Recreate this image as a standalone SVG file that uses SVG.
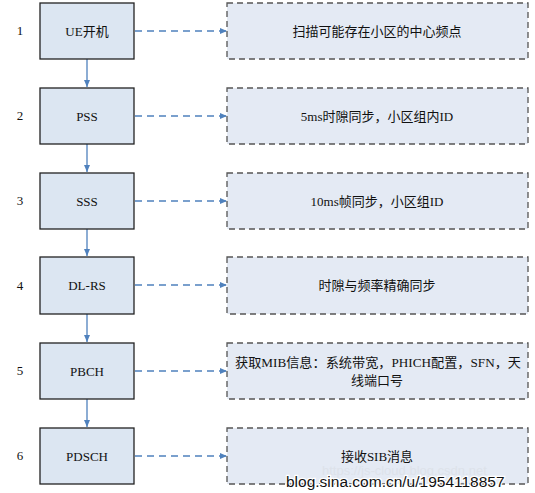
<svg xmlns="http://www.w3.org/2000/svg" width="535" height="493" viewBox="0 0 535 493">
<style>
.step{fill:#DCE6F2;stroke:#222;stroke-width:1.3}
.note{fill:#E4EAF4;stroke:#555;stroke-width:1.3;stroke-dasharray:6,4}
.lbl{font-family:"Liberation Serif","Noto Sans CJK SC",serif;font-size:13px;fill:#111;text-anchor:middle}
.num{font-family:"Liberation Serif",serif;font-size:13px;fill:#111;text-anchor:middle}
.down{stroke:#4F81BD;stroke-width:1.3;fill:none}
.side{stroke:#4F81BD;stroke-width:1.3;fill:none;stroke-dasharray:7,5}
.wm{font-family:"Liberation Sans",sans-serif}
</style>
<defs>
<marker id="ah" markerWidth="8" markerHeight="8" refX="7" refY="4" orient="auto" markerUnits="userSpaceOnUse">
<path d="M0,1 L7,4 L0,7 Z" fill="#4F81BD"/>
</marker>
</defs>
<rect width="535" height="493" fill="#fff"/>
<g id="numbers">
<text class="num" x="20" y="35">1</text>
<text class="num" x="20" y="120">2</text>
<text class="num" x="20" y="205">3</text>
<text class="num" x="20" y="290">4</text>
<text class="num" x="20" y="375">5</text>
<text class="num" x="20" y="460">6</text>
</g>
<g id="connectors">
<line class="down" x1="87" y1="59" x2="87" y2="87" marker-end="url(#ah)"/>
<line class="down" x1="87" y1="144" x2="87" y2="172" marker-end="url(#ah)"/>
<line class="down" x1="87" y1="229" x2="87" y2="256" marker-end="url(#ah)"/>
<line class="down" x1="87" y1="314" x2="87" y2="342" marker-end="url(#ah)"/>
<line class="down" x1="87" y1="399" x2="87" y2="427" marker-end="url(#ah)"/>
<line class="side" x1="135" y1="31" x2="227" y2="31" marker-end="url(#ah)"/>
<line class="side" x1="135" y1="116" x2="227" y2="116" marker-end="url(#ah)"/>
<line class="side" x1="135" y1="201" x2="227" y2="201" marker-end="url(#ah)"/>
<line class="side" x1="135" y1="285" x2="227" y2="285" marker-end="url(#ah)"/>
<line class="side" x1="135" y1="371" x2="227" y2="371" marker-end="url(#ah)"/>
<line class="side" x1="135" y1="456" x2="227" y2="456" marker-end="url(#ah)"/>
</g>
<g id="n1"><rect class="step" x="40" y="3" width="94" height="56"/><text class="lbl" x="87" y="36">UE开机</text></g>
<g id="n2"><rect class="step" x="40" y="88" width="94" height="56"/><text class="lbl" x="87" y="121">PSS</text></g>
<g id="n3"><rect class="step" x="40" y="173" width="94" height="56"/><text class="lbl" x="87" y="206">SSS</text></g>
<g id="n4"><rect class="step" x="40" y="257" width="94" height="57"/><text class="lbl" x="87" y="290">DL-RS</text></g>
<g id="n5"><rect class="step" x="40" y="343" width="94" height="56"/><text class="lbl" x="87" y="376">PBCH</text></g>
<g id="n6"><rect class="step" x="40" y="428" width="94" height="56"/><text class="lbl" x="87" y="461">PDSCH</text></g>
<g id="r1"><rect class="note" x="227" y="3" width="301" height="56"/><text class="lbl" x="377" y="36">扫描可能存在小区的中心频点</text></g>
<g id="r2"><rect class="note" x="227" y="88" width="301" height="56"/><text class="lbl" x="377" y="121">5ms时隙同步，小区组内ID</text></g>
<g id="r3"><rect class="note" x="227" y="173" width="301" height="56"/><text class="lbl" x="377" y="206">10ms帧同步，小区组ID</text></g>
<g id="r4"><rect class="note" x="227" y="257" width="301" height="57"/><text class="lbl" x="377" y="290">时隙与频率精确同步</text></g>
<g id="r5"><rect class="note" x="227" y="343" width="301" height="56"/><text class="lbl" x="378" y="367" textLength="286" lengthAdjust="spacingAndGlyphs">获取MIB信息：系统带宽，PHICH配置，SFN，天</text><text class="lbl" x="377" y="385">线端口号</text></g>
<g id="r6"><rect class="note" x="227" y="428" width="301" height="56"/><text class="lbl" x="377" y="461">接收SIB消息</text></g>
<g id="watermark">
<text class="wm" x="322" y="475" font-size="13" fill="#dde2ea">https://js-cloud.blog.csdn.net</text>
<text class="wm" x="286" y="487" font-size="15.5" fill="#111" stroke="#fff" stroke-width="2.5" paint-order="stroke">blog.sina.com.cn/u/1954118857</text>
</g>
</svg>
